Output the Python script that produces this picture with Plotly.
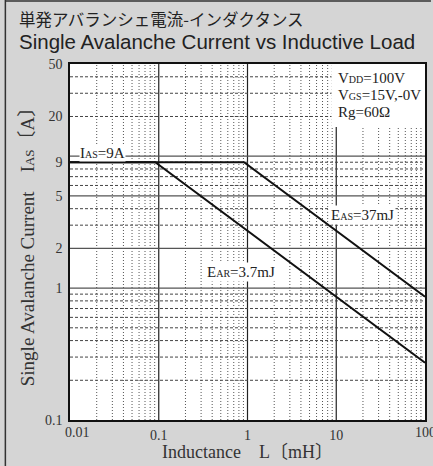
import math
import plotly.graph_objects as go

# ---- data ----
L_EAR = [0.01, 0.0914, 100]      # mH
I_EAR = [9, 9, 0.272]            # A
L_EAS = [0.01, 0.914, 100]       # mH
I_EAS = [9, 9, 0.86]             # A

x_tickvals = [0.01, 0.1, 1, 10, 100]
x_ticktext = ["", "0.1", "1", "10", ""]
y_tickvals = [0.1, 1, 2, 5, 9, 20, 50]
y_ticktext = ["0.1", "1", "2", "5", "9", "20", "50"]

XR = (-2.0, 2.0)
YR = (-1.0, math.log10(50))

W, H = 433, 466
ML, MR, MT, MB = 70, 6, 64, 46
PW, PH = W - ML - MR, H - MT - MB

SERIF = "Liberation Serif, DejaVu Serif, Noto Sans CJK JP, serif"
SANS = "Liberation Sans, Arial, sans-serif"
CJK = "Noto Sans CJK JP, sans-serif"


def fx(v):
    return (math.log10(v) - XR[0]) / (XR[1] - XR[0])


def fy(v):
    return (math.log10(v) - YR[0]) / (YR[1] - YR[0])


def px_x(p):
    return (p - ML) / PW


def px_y(p):
    return (H - MB - p) / PH


fig = go.Figure()
fig.add_trace(go.Scatter(x=L_EAR, y=I_EAR, mode="lines",
                         line=dict(color="#111111", width=2), hoverinfo="skip"))
fig.add_trace(go.Scatter(x=L_EAS, y=I_EAS, mode="lines",
                         line=dict(color="#111111", width=2), hoverinfo="skip"))

shapes = []
# vertical grid
x_minor = [k * 10 ** e for e in (-2, -1, 0, 1) for k in range(2, 10)]
for v in x_minor:
    shapes.append(dict(type="line", xref="paper", yref="paper", x0=fx(v), x1=fx(v),
                       y0=0, y1=1, layer="below",
                       line=dict(color="#555555", width=1, dash="1px,2px")))
for v in [0.1, 1, 10]:
    shapes.append(dict(type="line", xref="paper", yref="paper", x0=fx(v), x1=fx(v),
                       y0=0, y1=1, layer="below",
                       line=dict(color="#222222", width=1.2)))
# horizontal grid
y_solid = [1, 2, 5, 10]
y_dashed = [k * 10 ** e for e in (-1, 0, 1) for k in range(1, 10)
            if k * 10 ** e < 50 and k * 10 ** e > 0.1 and k * 10 ** e not in y_solid]
for v in y_dashed:
    shapes.append(dict(type="line", xref="paper", yref="paper", x0=0, x1=1,
                       y0=fy(v), y1=fy(v), layer="below",
                       line=dict(color="#444444", width=1, dash="3px,2px")))
for v in y_solid:
    shapes.append(dict(type="line", xref="paper", yref="paper", x0=0, x1=1,
                       y0=fy(v), y1=fy(v), layer="below",
                       line=dict(color="#555555", width=1.2)))
# white box behind the conditions text
shapes.append(dict(type="rect", xref="paper", yref="paper", x0=px_x(333), x1=1,
                   y0=px_y(127), y1=1, layer="below",
                   fillcolor="white", line=dict(width=0)))
# outer frame lines of the panel
shapes.append(dict(type="line", xref="paper", yref="paper", x0=px_x(5), x1=px_x(5),
                   y0=px_y(0), y1=px_y(H), line=dict(color="#333333", width=1.5)))
shapes.append(dict(type="line", xref="paper", yref="paper", x0=px_x(5), x1=px_x(W),
                   y0=px_y(1), y1=px_y(1), line=dict(color="#333333", width=1.5)))

sm = "<span style='font-size:10px'>{}</span>"
ann = []
ann.append(dict(text="単発アバランシェ電流-インダクタンス", xref="paper", yref="paper",
                x=px_x(17), y=px_y(19), xanchor="left", yanchor="middle", showarrow=False,
                font=dict(family=CJK, size=16.5, color="#222222")))
ann.append(dict(text="Single Avalanche Current vs Inductive Load", xref="paper", yref="paper",
                x=px_x(17), y=px_y(42), xanchor="left", yanchor="middle", showarrow=False,
                font=dict(family=SANS, size=20.5, color="#222222")))
for i, t in enumerate(["V" + sm.format("DD") + "=100V",
                       "V" + sm.format("GS") + "=15V,-0V",
                       "Rg=60Ω"]):
    ann.append(dict(text=t, xref="paper", yref="paper", x=px_x(337), y=px_y(78 + 17 * i),
                    xanchor="left", yanchor="middle", showarrow=False,
                    font=dict(family=SERIF, size=15, color="#222222")))
ann.append(dict(text="I" + sm.format("AS") + "=9A", xref="paper", yref="paper",
                x=px_x(79), y=px_y(153), xanchor="left", yanchor="middle", showarrow=False,
                bgcolor="white", borderpad=0,
                font=dict(family=SERIF, size=15, color="#222222")))
ann.append(dict(text="E" + sm.format("AS") + "=37mJ", xref="x", yref="y",
                x=math.log10(20.0), y=math.log10(3.6), xanchor="center", yanchor="middle",
                showarrow=False, bgcolor="white",
                font=dict(family=SERIF, size=15, color="#222222")))
ann.append(dict(text="E" + sm.format("AR") + "=3.7mJ", xref="x", yref="y",
                x=math.log10(0.84), y=math.log10(1.32), xanchor="center", yanchor="middle",
                showarrow=False, bgcolor="white",
                font=dict(family=SERIF, size=15, color="#222222")))
ann.append(dict(text="0.01", xref="paper", yref="paper", x=px_x(78), y=px_y(432),
                xanchor="center", yanchor="middle", showarrow=False,
                font=dict(family=SERIF, size=14, color="#333333")))
ann.append(dict(text="100", xref="paper", yref="paper", x=1.0, y=px_y(432),
                xanchor="center", yanchor="middle", showarrow=False,
                font=dict(family=SERIF, size=14, color="#333333")))
ann.append(dict(text="Inductance\u2003L〔mH〕", xref="paper", yref="paper",
                x=0.5, y=px_y(452), xanchor="center", yanchor="middle", showarrow=False,
                font=dict(family=SERIF, size=18, color="#333333")))
ann.append(dict(text="Single Avalanche Current\u2003I" + "<span style='font-size:13px'>AS</span>" + "〔A〕",
                xref="paper", yref="paper", x=px_x(27), y=0.5, textangle=-90,
                xanchor="center", yanchor="middle", showarrow=False,
                font=dict(family=SERIF, size=19, color="#333333")))

fig.update_layout(
    width=W, height=H,
    margin=dict(l=ML, r=MR, t=MT, b=MB, pad=0),
    paper_bgcolor="#d5d5d5", plot_bgcolor="white",
    showlegend=False,
    shapes=shapes, annotations=ann,
    xaxis=dict(type="log", range=list(XR), tickvals=x_tickvals, ticktext=x_ticktext,
               showgrid=False, zeroline=False, ticks="outside", ticklen=1,
               tickcolor="rgba(0,0,0,0)",
               showline=True, linecolor="#111111", linewidth=1.5, mirror=True,
               tickfont=dict(family=SERIF, size=14, color="#333333")),
    yaxis=dict(type="log", range=list(YR), tickvals=y_tickvals, ticktext=y_ticktext,
               showgrid=False, zeroline=False, ticks="outside", ticklen=3,
               tickcolor="rgba(0,0,0,0)",
               showline=True, linecolor="#111111", linewidth=1.5, mirror=True,
               tickfont=dict(family=SERIF, size=14, color="#333333")),
)

fig.write_html("out.html", config={"displayModeBar": False},
               post_script="document.body.style.margin='0';document.body.style.background='#d5d5d5';")
